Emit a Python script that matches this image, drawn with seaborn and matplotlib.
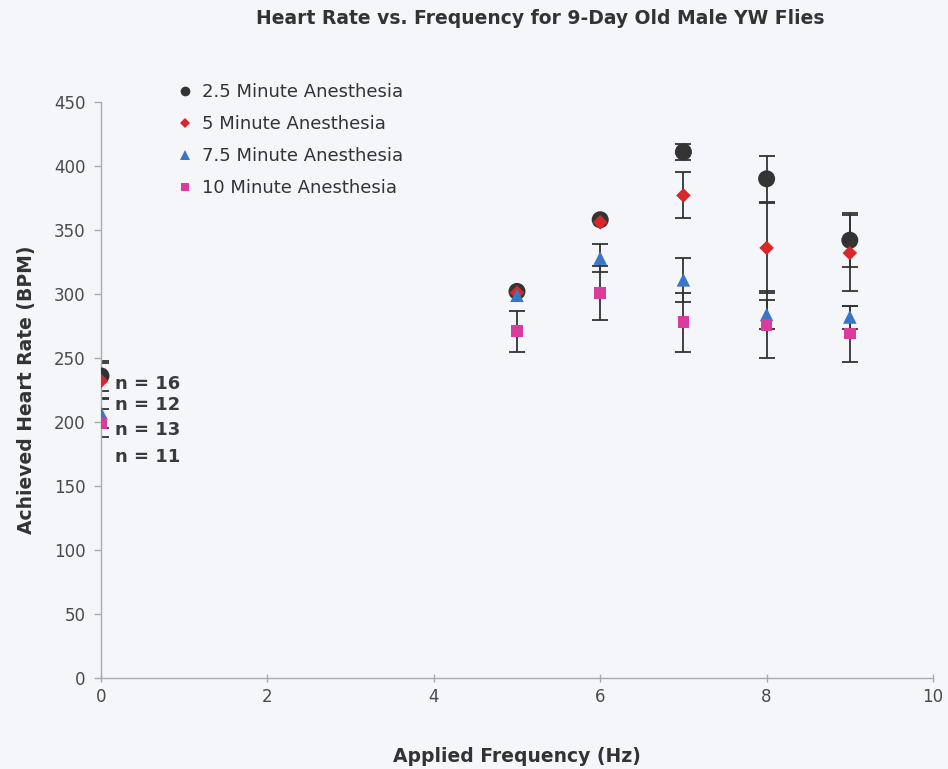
import matplotlib
matplotlib.use("Agg")
import matplotlib.pyplot as plt
import seaborn as sns
import pandas as pd
from matplotlib.lines import Line2D

series = ["2.5 Minute Anesthesia", "5 Minute Anesthesia", "7.5 Minute Anesthesia", "10 Minute Anesthesia"]
freqs = [0, 5, 6, 7, 8, 9]
rate_25 = [236, 302, 358, 411, 390, 342]
rate_5 = [232, 301, 356, 377, 336, 332]
rate_75 = [207, 299, 328, 311, 284, 282]
rate_10 = [199, 271, 301, 278, 276, 269]
err_25 = [12, 0, 0, 6, 18, 21]
err_5 = [14, 0, 0, 18, 35, 30]
err_75 = [12, 0, 11, 17, 11, 9]
err_10 = [11, 16, 21, 23, 26, 22]
n_labels = ["n = 16", "n = 12", "n = 13", "n = 11"]
n_y = [230, 213, 194, 173]

rates = [rate_25, rate_5, rate_75, rate_10]
errs = [err_25, err_5, err_75, err_10]
rows = []
for s, r, e in zip(series, rates, errs):
    for f, v, ee in zip(freqs, r, e):
        rows.append({"Frequency": f, "Rate": v, "Err": ee, "Series": s})
df = pd.DataFrame(rows)

colors = {series[0]: "#333333", series[1]: "#d8262a", series[2]: "#3a76c6", series[3]: "#d93c9c"}
markers = {series[0]: "o", series[1]: "D", series[2]: "^", series[3]: "s"}
sizes = {series[0]: 150, series[1]: 55, series[2]: 95, series[3]: 70}

sns.set_theme(style="white")
plt.rcParams["font.family"] = ["DejaVu Sans"]

bg = "#f4f6f9"
fig = plt.figure(figsize=(9.48, 7.69), dpi=100, facecolor=bg)
ax = fig.add_axes([0.1065, 0.1183, 0.8777, 0.7491])
ax.set_facecolor(bg)

for s in series:
    d = df[df["Series"] == s]
    d = d[d["Err"] > 0]
    ax.errorbar(d["Frequency"], d["Rate"], yerr=d["Err"], fmt="none",
                ecolor="#333333", elinewidth=1.3, capsize=5.5, capthick=1.3, zorder=2)

for s in series:
    d = df[df["Series"] == s]
    sns.scatterplot(data=d, x="Frequency", y="Rate", marker=markers[s], s=sizes[s],
                    color=colors[s], edgecolor="none", ax=ax, zorder=3, label=s, legend=False)

for t, y in zip(n_labels, n_y):
    ax.text(0.17, y, t, fontsize=13, fontweight="bold", color="#3a3a3a", va="center", ha="left")

ax.set_xlim(0, 10)
ax.set_ylim(0, 450)
ax.set_xticks(range(0, 11, 2))
ax.set_yticks(range(0, 451, 50))
ax.tick_params(axis="y", labelsize=12, labelcolor="#4a4a4a", colors="#aaaaaa",
               length=5, width=1, direction="out", left=True, pad=6)
ax.tick_params(axis="x", labelsize=12, labelcolor="#4a4a4a", colors="#aaaaaa",
               length=6, width=1, direction="inout", bottom=True, pad=4)
ax.tick_params(axis="both", labelcolor="#4a4a4a")
for side in ["top", "right"]:
    ax.spines[side].set_visible(False)
for side in ["left", "bottom"]:
    ax.spines[side].set_color("#aaaaaa")
    ax.spines[side].set_linewidth(1.0)

ax.set_xlabel("Applied Frequency (Hz)", fontsize=13.5, fontweight="bold", color="#333333", labelpad=30)
ax.set_ylabel("Achieved Heart Rate (BPM)", fontsize=13.5, fontweight="bold", color="#333333", labelpad=13)
fig.text(0.57, 0.976, "Heart Rate vs. Frequency for 9-Day Old Male YW Flies", ha="center", va="center",
         fontsize=13.5, fontweight="bold", color="#333333")

handles = [Line2D([], [], linestyle="none", marker=markers[s], color=colors[s],
                  markersize={"o": 7, "D": 5.5, "^": 7, "s": 6}[markers[s]], markeredgewidth=0) for s in series]
leg = ax.legend(handles, series, loc="upper left", bbox_to_anchor=(0.188, 0.892), bbox_transform=fig.transFigure,
                frameon=False, fontsize=13, handlelength=0.8, handletextpad=0.5, labelspacing=0.78,
                borderaxespad=0, borderpad=0)
for t in leg.get_texts():
    t.set_color("#333333")

fig.savefig("out.png", dpi=100, facecolor=bg)
